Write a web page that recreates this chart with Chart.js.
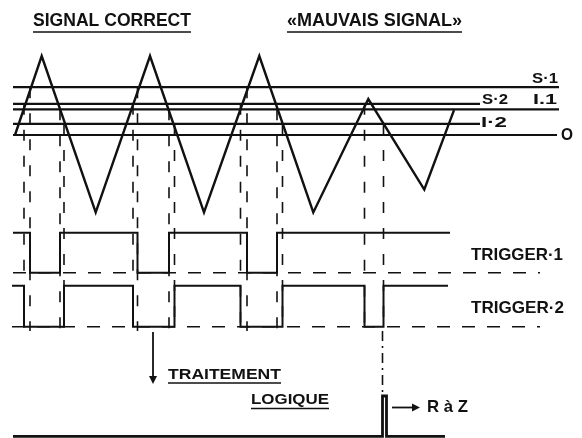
<!DOCTYPE html>
<html>
<head>
<meta charset="utf-8">
<script src="https://cdn.jsdelivr.net/npm/chart.js@4.4.0/dist/chart.umd.min.js"></script>
<style>
  html, body { margin: 0; padding: 0; background: #fff; }
  #wrap { width: 582px; height: 438px; }
</style>
</head>
<body>
<div id="wrap"><canvas id="diagram" width="582" height="438"></canvas></div>
<script>
// analog signal: time (arbitrary units) and amplitude (O = 0)
const signalTimes = [15, 41.7, 95.7, 150, 204, 259.3, 313.3, 368.3, 424.3, 454];
const signalValues = [0, 10, -9.8, 10, -9.8, 10, -9.8, 4.55, -6.9, 3.15];

// threshold levels
const thresholdNames = ['S·1', 'S·2', 'I.1', 'I·2', 'O'];
const thresholdValues = [6.05, 3.95, 3.25, 1.4, 0];
const thresholdEnds = [559, 480, 559, 480, 557];
const thresholdStart = 13;

// trigger outputs (1 = high, switches at each edge)
const trigger1Edges = [30, 60, 137.5, 169, 247, 277];
const trigger2Edges = [24, 64, 133, 174.5, 240.5, 282.5, 364.5, 383.5];
const trigger1Span = [13, 450];
const trigger2Span = [12, 448];
const baselineEnd = 540;

// reset pulse (RàZ) after logic processing
const resetTimes = [13, 382.5, 382.5, 386.5, 386.5, 445];
const resetValues = [0, 0, 1, 1, 0, 0];

const INK = '#111';
const H = 438;

function fitAxis(v1, p1, v2, p2) {
  const k = (p1 - p2) / (v2 - v1);
  const max = v1 + p1 / k;
  return { min: max - H / k, max: max, display: false, type: 'linear' };
}

function squareWave(span, edges) {
  const pts = [{ x: span[0], y: 1 }];
  let level = 1;
  edges.forEach(t => {
    pts.push({ x: t, y: level });
    level = 1 - level;
    pts.push({ x: t, y: level });
  });
  pts.push({ x: span[1], y: level });
  return pts;
}

const lineStyle = { borderColor: INK, pointRadius: 0, tension: 0, fill: false };

const datasets = [];
thresholdValues.forEach((v, i) => {
  datasets.push({
    ...lineStyle, label: thresholdNames[i], yAxisID: 'ySig', borderWidth: 2.2,
    data: [{ x: thresholdStart, y: v }, { x: thresholdEnds[i], y: v }]
  });
});
datasets.push({
  ...lineStyle, label: 'signal', yAxisID: 'ySig', borderWidth: 2.4,
  data: signalTimes.map((t, i) => ({ x: t, y: signalValues[i] }))
});
datasets.push({
  ...lineStyle, label: 'TRIGGER·1', yAxisID: 'yT1', borderWidth: 2,
  data: squareWave(trigger1Span, trigger1Edges)
});
datasets.push({
  ...lineStyle, label: 'T1 base', yAxisID: 'yT1', borderWidth: 1.5, borderDash: [13, 12],
  data: [{ x: trigger1Span[0], y: 0 }, { x: baselineEnd, y: 0 }]
});
datasets.push({
  ...lineStyle, label: 'TRIGGER·2', yAxisID: 'yT2', borderWidth: 2,
  data: squareWave(trigger2Span, trigger2Edges)
});
datasets.push({
  ...lineStyle, label: 'T2 base', yAxisID: 'yT2', borderWidth: 1.5, borderDash: [13, 12],
  data: [{ x: trigger2Span[0], y: 0 }, { x: baselineEnd, y: 0 }]
});
datasets.push({
  ...lineStyle, label: 'RàZ', yAxisID: 'yRaz', borderWidth: 2.8,
  data: resetTimes.map((t, i) => ({ x: t, y: resetValues[i] }))
});

// vertical guides: trigger 1 flips at S1 / I1, trigger 2 at S2 / I2
const guides = [];
trigger1Edges.forEach((t, i) => guides.push({ t, level: thresholdValues[i % 2 === 0 ? 0 : 2] }));
trigger2Edges.forEach((t, i) => guides.push({ t, level: thresholdValues[i % 2 === 0 ? 1 : 3] }));

const guidePlugin = {
  id: 'guides',
  beforeDatasetsDraw(chart) {
    const { ctx, scales } = chart;
    const bottom = scales.yT2.getPixelForValue(-0.1);
    ctx.save();
    ctx.strokeStyle = INK;
    ctx.lineWidth = 1.6;
    ctx.setLineDash([11, 15]);
    guides.forEach(g => {
      const x = scales.x.getPixelForValue(g.t);
      ctx.beginPath();
      ctx.moveTo(x, scales.ySig.getPixelForValue(g.level));
      ctx.lineTo(x, bottom);
      ctx.stroke();
    });
    // dash-dot link from the bad-signal edge down to the reset pulse
    const last = trigger2Edges[trigger2Edges.length - 1];
    const xl = scales.x.getPixelForValue(last) - 1;
    ctx.setLineDash([10, 5, 2, 5]);
    ctx.beginPath();
    ctx.moveTo(xl, bottom);
    ctx.lineTo(xl, scales.yRaz.getPixelForValue(1));
    ctx.stroke();
    ctx.restore();
  }
};

function arrow(ctx, x1, y1, x2, y2) {
  const a = Math.atan2(y2 - y1, x2 - x1);
  ctx.beginPath();
  ctx.moveTo(x1, y1);
  ctx.lineTo(x2 - 5 * Math.cos(a), y2 - 5 * Math.sin(a));
  ctx.stroke();
  ctx.beginPath();
  ctx.moveTo(x2, y2);
  ctx.lineTo(x2 - 8 * Math.cos(a) + 4 * Math.sin(a), y2 - 8 * Math.sin(a) - 4 * Math.cos(a));
  ctx.lineTo(x2 - 8 * Math.cos(a) - 4 * Math.sin(a), y2 - 8 * Math.sin(a) + 4 * Math.cos(a));
  ctx.closePath();
  ctx.fill();
}

const labelPlugin = {
  id: 'labels',
  afterDraw(chart) {
    const { ctx } = chart;
    ctx.save();
    ctx.fillStyle = INK;
    ctx.strokeStyle = INK;
    ctx.textBaseline = 'middle';
    // bold text stretched to the width it has in the original scan
    const text = (s, x, y, size, width, underline) => {
      ctx.font = 'bold ' + size + 'px "Liberation Sans", Arial, sans-serif';
      const w = ctx.measureText(s).width;
      ctx.save();
      ctx.translate(x, y);
      ctx.scale(width / w, 1);
      ctx.fillText(s, 0, 0);
      ctx.restore();
      if (underline) {
        ctx.lineWidth = 1.6;
        ctx.beginPath();
        ctx.moveTo(x, y + underline);
        ctx.lineTo(x + width, y + underline);
        ctx.stroke();
      }
    };
    text('SIGNAL CORRECT', 33, 21, 18, 158, 11);
    text('«MAUVAIS SIGNAL»', 287, 21, 18, 175, 11);
    text(thresholdNames[0], 532, 79, 15.5, 26);
    text(thresholdNames[1], 482, 100, 15.5, 26);
    text(thresholdNames[2], 533, 100, 15.5, 24);
    text(thresholdNames[3], 481, 123, 15.5, 26);
    text(thresholdNames[4], 561, 136, 16, 12);
    text('TRIGGER·1', 471, 255, 16.5, 92);
    text('TRIGGER·2', 471, 308, 16.5, 93);
    text('TRAITEMENT', 168, 375, 14.5, 113, 8);
    text('LOGIQUE', 251, 400, 14.5, 78, 8.5);
    text('R à Z', 427, 407, 17, 41);
    ctx.lineWidth = 1.8;
    arrow(ctx, 153, 332, 153, 384);
    arrow(ctx, 392, 407.5, 420, 407.5);
    ctx.restore();
  }
};

new Chart(document.getElementById('diagram'), {
  type: 'line',
  data: { datasets },
  options: {
    responsive: false,
    animation: false,
    events: [],
    layout: { padding: 0 },
    plugins: { legend: { display: false }, tooltip: { enabled: false } },
    scales: {
      x: { type: 'linear', min: 0, max: 582, display: false },
      ySig: fitAxis(0, 135, 10, 56),
      yT1: fitAxis(0, 272.7, 1, 232.7),
      yT2: fitAxis(0, 326.8, 1, 285.8),
      yRaz: fitAxis(0, 436.3, 1, 396)
    }
  },
  plugins: [guidePlugin, labelPlugin]
});
</script>
</body>
</html>
